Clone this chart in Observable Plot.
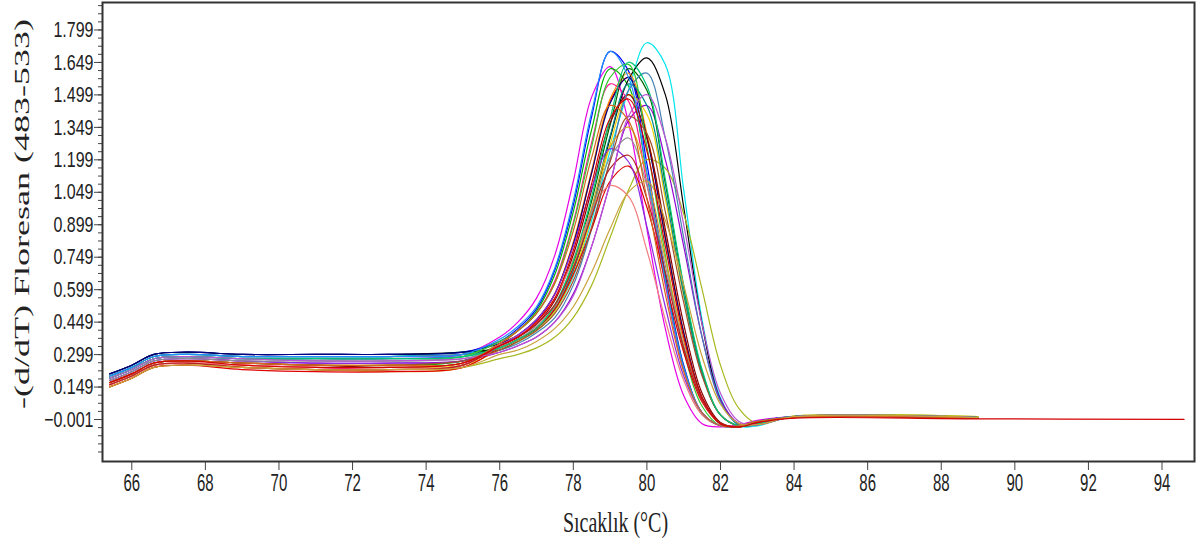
<!DOCTYPE html>
<html><head><meta charset="utf-8">
<script src="https://cdn.jsdelivr.net/npm/d3@7"></script>
<script src="https://cdn.jsdelivr.net/npm/@observablehq/plot@0.6"></script>
<style>
html,body{margin:0;padding:0;background:#fff;}
#chart svg{display:block;}
</style></head><body><div id="chart"></div>
<script>
// temperature sample points (°C)
const temps = [65.4, 66.0, 66.6, 67.5, 69, 71, 73, 75, 76, 76.5, 77, 77.5, 78, 78.5, 79, 79.5, 80, 80.5, 81, 81.5, 82, 82.5, 83, 84, 89, 94.6];

// -(d/dT) fluorescence per sample
const s01 = [0.19,0.23,0.28,0.29,0.28,0.28,0.28,0.30, 0.38,0.45,0.56,0.76,1.10,1.49,1.63,1.37,0.88,0.42,0.11,-0.02,-0.035,-0.025,-0.005, 0.012,0.008,null];
const s02 = [0.21,0.25,0.30,0.31,0.30,0.30,0.30,0.31, 0.36,0.42,0.51,0.69,0.99,1.40,1.70,1.61,1.18,0.67,0.25,0.03,-0.03,-0.03,-0.01, 0.014,0.010,null];
const s03 = [0.17,0.21,0.26,0.27,0.26,0.25,0.25,0.27, 0.35,0.41,0.50,0.67,0.96,1.34,1.62,1.54,1.13,0.65,0.24,0.03,-0.03,-0.03,-0.01, 0.010,0.008,null];
const s04 = [0.16,0.20,0.25,0.26,0.24,0.23,0.23,0.25, 0.34,0.38,0.45,0.58,0.81,1.14,1.47,1.58,1.31,0.84,0.40,0.10,-0.02,-0.035,-0.015, 0.008,0.005,null];
const s05 = [0.20,0.24,0.29,0.30,0.29,0.29,0.29,0.31, 0.32,0.36,0.41,0.50,0.66,0.92,1.24,1.52,1.74,1.64,1.06,0.46,0.10,-0.03,-0.03, 0.012,0.008,null];
const s06 = [0.21,0.25,0.30,0.31,0.30,0.30,0.30,0.31, 0.33,0.37,0.42,0.51,0.69,0.96,1.30,1.57,1.67,1.50,0.98,0.44,0.09,-0.025,-0.025, 0.012,0.008,null];
const s07 = [0.17,0.21,0.26,0.27,0.26,0.25,0.25,0.26, 0.35,0.39,0.46,0.58,0.82,1.15,1.48,1.60,1.32,0.85,0.40,0.10,-0.02,-0.035,-0.015, 0.010,0.006,null];
const s08 = [0.16,0.20,0.25,0.26,0.25,0.24,0.24,0.25, 0.32,0.36,0.41,0.50,0.67,0.94,1.27,1.50,1.41,1.02,0.57,0.21,0.02,-0.03,-0.02, 0.015,0.012,null];
const s09 = [0.18,0.22,0.27,0.28,0.27,0.26,0.26,0.27, 0.31,0.34,0.38,0.45,0.58,0.80,1.09,1.38,1.45,1.20,0.80,0.38,0.09,-0.02,-0.025, 0.012,0.008,null];
const s10 = [0.15,0.19,0.24,0.25,0.24,0.23,0.23,0.24, 0.28,0.30,0.33,0.38,0.47,0.62,0.84,1.06,1.20,1.16,0.95,0.60,0.25,0.05,-0.02, 0.015,0.012,null];
const s11 = [0.20,0.24,0.29,0.30,0.29,0.29,0.29,0.30, 0.33,0.37,0.42,0.52,0.72,1.01,1.36,1.62,1.52,1.09,0.61,0.22,0.02,-0.03,-0.02, 0.012,0.008,null];
const s12 = [0.21,0.25,0.30,0.31,0.30,0.30,0.30,0.31, 0.35,0.39,0.46,0.58,0.81,1.14,1.46,1.58,1.30,0.84,0.40,0.10,-0.02,-0.035,-0.015, 0.012,0.008,null];
const s13 = [0.17,0.21,0.26,0.27,0.26,0.25,0.24,0.26, 0.34,0.38,0.44,0.55,0.76,1.06,1.37,1.50,1.30,0.88,0.44,0.12,-0.015,-0.035,-0.015, 0.010,0.006,null];
const s14 = [0.16,0.20,0.25,0.26,0.25,0.24,0.23,0.25, 0.35,0.41,0.49,0.64,0.91,1.28,1.55,1.47,1.09,0.62,0.23,0.03,-0.03,-0.03,-0.01, 0.008,0.005,null];
const s15 = [0.19,0.23,0.28,0.29,0.28,0.28,0.28,0.29, 0.33,0.37,0.42,0.51,0.69,0.97,1.31,1.55,1.45,1.05,0.58,0.21,0.02,-0.03,-0.02, 0.012,0.008,null];
const s16 = [0.20,0.24,0.29,0.30,0.29,0.29,0.29,0.30, 0.32,0.35,0.40,0.47,0.62,0.88,1.20,1.52,1.60,1.30,0.84,0.38,0.08,-0.025,-0.025, 0.012,0.008,null];
const s17 = [0.19,0.23,0.28,0.29,0.28,0.27,0.27,0.29, 0.36,0.41,0.49,0.63,0.90,1.26,1.58,1.64,1.26,0.76,0.32,0.06,-0.03,-0.03,-0.012, 0.012,0.008,null];
const s18 = [0.15,0.19,0.24,0.25,0.24,0.23,0.22,0.24, 0.33,0.37,0.42,0.52,0.71,0.98,1.26,1.35,1.13,0.74,0.36,0.09,-0.02,-0.035,-0.015, 0.010,0.006,null];
const s19 = [0.15,0.19,0.24,0.25,0.23,0.22,0.22,0.24, 0.33,0.37,0.42,0.51,0.67,0.88,1.10,1.17,0.98,0.64,0.31,0.08,-0.02,-0.035,-0.015, 0.008,0.005,null];
const s20 = [0.16,0.20,0.25,0.26,0.25,0.24,0.24,0.25, 0.34,0.39,0.45,0.56,0.74,0.96,1.08,1.03,0.78,0.46,0.18,0.02,-0.03,-0.03,-0.01, 0.010,0.006,null];
const s21 = [0.18,0.22,0.27,0.28,0.27,0.26,0.26,0.27, 0.34,0.39,0.46,0.58,0.80,1.07,1.25,1.19,0.89,0.52,0.20,0.03,-0.03,-0.03,-0.01, 0.012,0.008,null];
const s22 = [0.17,0.21,0.26,0.27,0.26,0.25,0.25,0.27, 0.32,0.36,0.41,0.49,0.64,0.89,1.19,1.40,1.32,0.96,0.54,0.20,0.02,-0.03,-0.02, 0.010,0.006,null];
const s23 = [0.20,0.24,0.29,0.30,0.29,0.29,0.29,0.30, 0.37,0.43,0.52,0.70,1.01,1.42,1.70,1.58,1.14,0.64,0.24,0.03,-0.03,-0.03,-0.01, 0.012,0.008,null];
const s24 = [0.18,0.22,0.27,0.28,0.27,0.27,0.27,0.28, 0.33,0.37,0.43,0.52,0.70,0.96,1.21,1.30,1.08,0.71,0.34,0.09,-0.02,-0.035,-0.015, 0.010,0.006,null];
const s25 = [0.19,0.23,0.28,0.29,0.28,0.28,0.28,0.29, 0.33,0.37,0.42,0.53,0.73,1.03,1.39,1.65,1.54,1.11,0.62,0.23,0.02,-0.03,-0.02, 0.012,0.008,null];
const s26 = [0.16,0.20,0.25,0.26,0.24,0.23,0.23,0.25, 0.34,0.38,0.44,0.53,0.70,0.94,1.16,1.22,1.02,0.68,0.33,0.09,-0.02,-0.035,-0.015, 0.008,0.005,null];
const s27 = [0.19,0.23,0.28,0.29,0.28,0.27,0.27,0.28, 0.31,0.34,0.38,0.45,0.57,0.80,1.09,1.40,1.50,1.30,0.90,0.44,0.12,-0.01,-0.025, 0.012,0.008,null];
const s28 = [0.17,0.21,0.26,0.27,0.26,0.25,0.25,0.26, 0.35,0.41,0.49,0.63,0.87,1.21,1.45,1.38,1.02,0.58,0.22,0.03,-0.03,-0.03,-0.01, 0.010,0.006,null];
const s29 = [0.15,0.19,0.24,0.25,0.24,0.23,0.23,0.24, 0.30,0.32,0.36,0.42,0.52,0.68,0.88,1.05,1.10,0.92,0.62,0.29,0.07,-0.02,-0.025, 0.012,0.008,null];
const s30 = [0.17,0.21,0.26,0.27,0.25,0.24,0.24,0.26, 0.34,0.38,0.45,0.56,0.78,1.09,1.39,1.48,1.24,0.80,0.38,0.10,-0.02,-0.035,-0.015, 0.005,0.002,0.0];

const sampleNames = ["s01","s02","s03","s04","s05","s06","s07","s08","s09","s10","s11","s12","s13","s14","s15","s16","s17","s18","s19","s20","s21","s22","s23","s24","s25","s26","s27","s28","s29","s30"];
const sampleValues = [s01,s02,s03,s04,s05,s06,s07,s08,s09,s10,s11,s12,s13,s14,s15,s16,s17,s18,s19,s20,s21,s22,s23,s24,s25,s26,s27,s28,s29,s30];
const sampleColors = ["#e600e6","#0000ff","#00b400","#ff0000","#00e5ee","#000000","#ff8c00","#f0d000","#9400d3","#a8b820","#006400","#000080","#8b0000","#ff1493","#008b8b","#4682b4","#32cd32","#daa520","#e00000","#f08080","#8a2be2","#a0522d","#1e90ff","#909090","#00c87a","#b22222","#ba55d3","#d2691e","#c9a23c","#d40000"];

const xTickValues = [66,68,70,72,74,76,78,80,82,84,86,88,90,92,94];
const yTickValues = [-0.001,0.149,0.299,0.449,0.599,0.749,0.899,1.049,1.199,1.349,1.499,1.649,1.799];
const xTitle = "Sıcaklık (°C)";
const yTitle = "-(d/dT) Floresan (483-533)";

const rows = [];
sampleValues.forEach((vals, k) => vals.forEach((v, i) => {
  if (v != null) rows.push({temp: temps[i], value: v, sample: sampleNames[k]});
}));
const minorY = d3.range(-0.001 - 0.15, 1.93, 0.0375).filter(v => v > -0.195 && v < 1.926);

const chart = Plot.plot({
  width: 1202, height: 549,
  marginLeft: 102, marginRight: 8, marginTop: 2, marginBottom: 88,
  style: {fontFamily: "'Liberation Sans', Arial, sans-serif", background: "#fff", color: "#222"},
  x: {domain: [65.204, 94.883]},
  y: {domain: [-0.195, 1.926]},
  color: {domain: sampleNames, range: sampleColors},
  marks: [
    Plot.line(rows, {x: "temp", y: "value", z: "sample", stroke: "sample", curve: "catmull-rom", strokeWidth: 1.2}),
    Plot.axisY({ticks: minorY, tickSize: 4, tickFormat: () => "", label: null, stroke: "#444"}),
    Plot.axisY({ticks: yTickValues, tickSize: 8, tickPadding: 1, tickFormat: d3.format(".3f"), fontSize: 16, label: null, stroke: "#444", fill: "#222"}),
    Plot.axisX({ticks: xTickValues, tickSize: 9, tickPadding: 3, tickFormat: d => String(d), fontSize: 15, label: null, stroke: "#444", fill: "#222"}),
    Plot.axisY({ticks: [], label: yTitle, labelAnchor: "center", labelOffset: 88, labelArrow: false, fontSize: 20, fontFamily: "'Liberation Serif', 'Times New Roman', serif", fill: "#222"}),
    Plot.axisX({ticks: [], label: xTitle, labelAnchor: "center", labelOffset: 75, labelArrow: false, fontSize: 20, fontFamily: "'Liberation Serif', 'Times New Roman', serif", fill: "#222"}),
    Plot.frame({stroke: "#333", strokeWidth: 2})
  ]
});

// stretch glyphs (the reference text is drawn tall and narrow)
function stretch(selector, sx, sy, pre = "") {
  chart.querySelectorAll(selector).forEach(t => {
    const tr = t.getAttribute("transform");
    if (tr) t.setAttribute("transform", pre + tr + ` scale(${sx},${sy})`);
  });
}
stretch('g[aria-label="x-axis tick label"] text', 1, 1.6);
stretch('g[aria-label="y-axis tick label"] text', 1, 1.4);
stretch('g[aria-label="y-axis label"] text', 1.8, 1, "translate(0,-18) ");
stretch('g[aria-label="x-axis label"] text', 1, 1.5, "translate(-33,-5) ");

document.getElementById("chart").appendChild(chart);
</script>
</body></html>
